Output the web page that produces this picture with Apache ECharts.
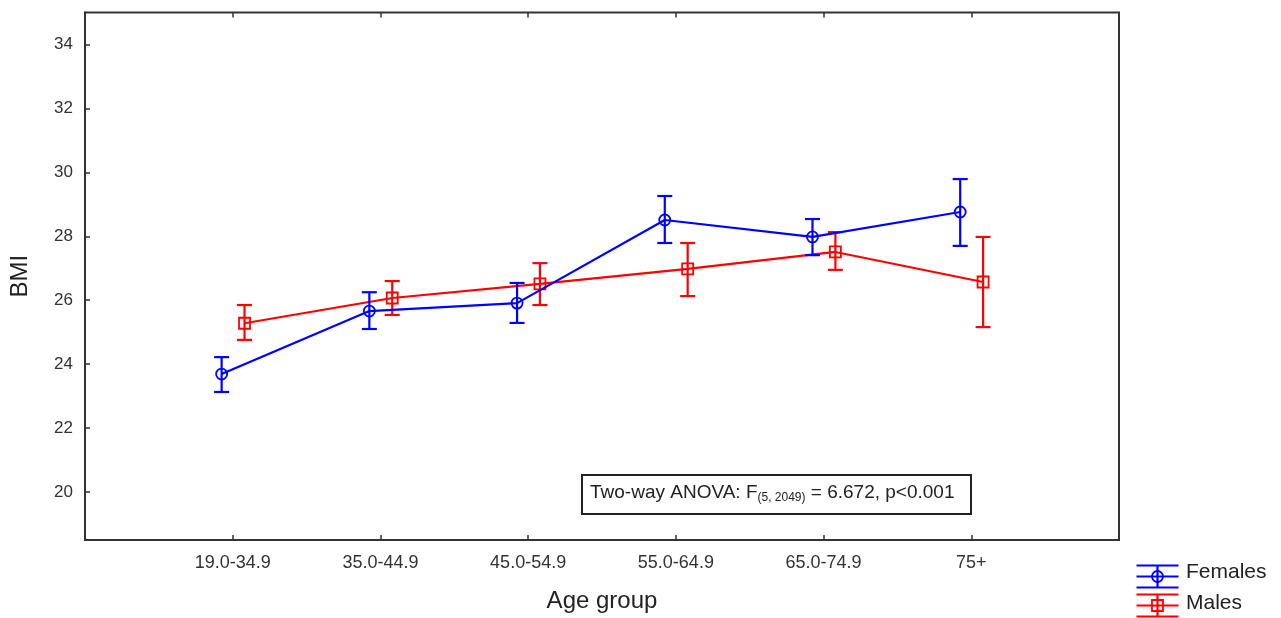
<!DOCTYPE html>
<html>
<head>
<meta charset="utf-8">
<script src="https://cdn.jsdelivr.net/npm/echarts@6/dist/echarts.min.js"></script>
<style>
html,body{margin:0;padding:0;background:#fff;}
#chart{width:1281px;height:618px;}
</style>
</head>
<body>
<div id="chart"></div>
<script>
const categories = ['19.0-34.9','35.0-44.9','45.0-54.9','55.0-64.9','65.0-74.9','75+'];
const femalesMean = [23.69, 25.66, 25.91, 28.51, 27.98, 28.76];
const femalesLow  = [23.13, 25.10, 25.29, 27.79, 27.41, 27.70];
const femalesHigh = [24.22, 26.25, 26.54, 29.26, 28.54, 29.79];
const malesMean = [25.28, 26.07, 26.51, 26.98, 27.51, 26.57];
const malesLow  = [24.76, 25.54, 25.85, 26.13, 26.95, 25.16];
const malesHigh = [25.85, 26.60, 27.16, 27.79, 28.13, 27.98];
const yTicks = [20, 22, 24, 26, 28, 30, 32, 34];
const femaleOffset = -0.075;
const maleOffset = 0.08;

const BLUE = '#0000ff', RED = '#ff0000';
const xPos = categories.map((c, i) => i + 1);

function lineData(mean, off) { return mean.map((v, i) => [xPos[i] + off, v]); }
function errData(lo, hi, off) { return lo.map((v, i) => [xPos[i] + off, v, hi[i]]); }

function errRender(color) {
  return function (params, api) {
    const x = api.value(0);
    const lo = api.coord([x, api.value(1)]);
    const hi = api.coord([x, api.value(2)]);
    const hw = 7.5;
    const style = { stroke: color, lineWidth: 2.2, fill: null };
    return {
      type: 'group',
      children: [
        { type: 'line', shape: { x1: lo[0], y1: lo[1], x2: hi[0], y2: hi[1] }, style },
        { type: 'line', shape: { x1: lo[0] - hw, y1: lo[1], x2: lo[0] + hw, y2: lo[1] }, style },
        { type: 'line', shape: { x1: hi[0] - hw, y1: hi[1], x2: hi[0] + hw, y2: hi[1] }, style }
      ]
    };
  };
}

const chart = echarts.init(document.getElementById('chart'), null, { renderer: 'canvas' });
const FONT = '"Liberation Sans", Arial, sans-serif';

function legendIcon(x, y, color, shape) {
  const s = { stroke: color, lineWidth: 2.2, fill: null };
  const cx = x + 21, w = 42;
  const children = [
    { type: 'line', shape: { x1: x, y1: y - 11, x2: x + w, y2: y - 11 }, style: s },
    { type: 'line', shape: { x1: x, y1: y, x2: x + w, y2: y }, style: s },
    { type: 'line', shape: { x1: x, y1: y + 11, x2: x + w, y2: y + 11 }, style: s },
    { type: 'line', shape: { x1: cx, y1: y - 11, x2: cx, y2: y + 11 }, style: s }
  ];
  if (shape === 'circle') children.push({ type: 'circle', shape: { cx: cx, cy: y, r: 5.5 }, style: { stroke: color, lineWidth: 1.8, fill: null } });
  else children.push({ type: 'rect', shape: { x: cx - 5.5, y: y - 5.5, width: 11, height: 11 }, style: { stroke: color, lineWidth: 1.8, fill: null } });
  return children;
}

const option = {
  backgroundColor: '#fff',
  animation: false,
  grid: { left: 85, right: 162, top: 12.5, bottom: 78, show: true, borderColor: '#333', borderWidth: 2,
    containLabel: false, outerBoundsMode: 'none' },
  xAxis: [{
    type: 'value', min: 0, max: 7, interval: 1,
    name: 'Age group', nameLocation: 'middle', nameGap: 49,
    nameTextStyle: { fontFamily: FONT, fontSize: 24, color: '#222' },
    axisLine: { show: true, lineStyle: { color: '#333', width: 2 } },
    axisTick: { show: true, inside: true, length: 5, lineStyle: { color: '#333', width: 1.5 }, customValues: xPos },
    axisLabel: { show: true, customValues: xPos, margin: 14, fontFamily: FONT, fontSize: 18, color: '#333',
      formatter: v => categories[Math.round(v) - 1] || '' },
    splitLine: { show: false }
  }, {
    type: 'value', min: 0, max: 7, interval: 1, position: 'top',
    axisLine: { show: false },
    axisTick: { show: true, inside: true, length: 5, lineStyle: { color: '#333', width: 1.5 }, customValues: xPos },
    axisLabel: { show: false }, splitLine: { show: false }
  }],
  yAxis: {
    type: 'value', min: 18.5, max: 35,
    name: 'BMI', nameLocation: 'middle', nameGap: 53, nameRotate: 90,
    nameTextStyle: { fontFamily: FONT, fontSize: 24, color: '#222' },
    axisLine: { show: true, lineStyle: { color: '#333', width: 2 } },
    axisTick: { show: true, inside: true, length: 5, lineStyle: { color: '#333', width: 1.5 }, customValues: yTicks },
    axisLabel: { show: true, customValues: yTicks, margin: 12, fontFamily: FONT, fontSize: 17, color: '#333' },
    splitLine: { show: false }
  },
  series: [
    {
      name: 'Females', type: 'line', data: lineData(femalesMean, femaleOffset),
      symbol: 'circle', symbolSize: 11,
      itemStyle: { color: 'rgba(0,0,0,0)', borderColor: BLUE, borderWidth: 1.8 },
      lineStyle: { color: BLUE, width: 2.2 }, z: 3
    },
    {
      name: 'Males', type: 'line', data: lineData(malesMean, maleOffset),
      symbol: 'rect', symbolSize: 11,
      itemStyle: { color: 'rgba(0,0,0,0)', borderColor: RED, borderWidth: 1.8 },
      lineStyle: { color: RED, width: 2.2 }, z: 2
    },
    {
      name: 'FemalesErr', type: 'custom', data: errData(femalesLow, femalesHigh, femaleOffset),
      renderItem: errRender(BLUE), encode: { x: 0, y: [1, 2] }, z: 4
    },
    {
      name: 'MalesErr', type: 'custom', data: errData(malesLow, malesHigh, maleOffset),
      renderItem: errRender(RED), encode: { x: 0, y: [1, 2] }, z: 3
    }
  ],
  graphic: [
    {
      type: 'group', left: 581, top: 474,
      children: [
        { type: 'rect', shape: { x: 0, y: 0, width: 389, height: 39 }, style: { fill: '#fff', stroke: '#222', lineWidth: 2 } },
        { type: 'text', x: 8, y: 7, style: {
          rich: {
            a: { fontFamily: FONT, fontSize: 19, fill: '#222' },
            s: { fontFamily: FONT, fontSize: 12, fill: '#222', padding: [10, 0, 0, 0] }
          },
          text: '{a|Two-way ANOVA: F}{s|(5, 2049)}{a| = 6.672, p<0.001}'
        } }
      ]
    },
    { type: 'group', left: 1134, top: 563, children: legendIcon(0, 11, BLUE, 'circle') },
    { type: 'text', left: 1186, top: 562, style: { text: 'Females', fontFamily: FONT, fontSize: 21, fill: '#222' } },
    { type: 'group', left: 1134, top: 592, children: legendIcon(0, 11, RED, 'rect') },
    { type: 'text', left: 1186, top: 593, style: { text: 'Males', fontFamily: FONT, fontSize: 21, fill: '#222' } }
  ]
};
chart.setOption(option);
</script>
</body>
</html>
